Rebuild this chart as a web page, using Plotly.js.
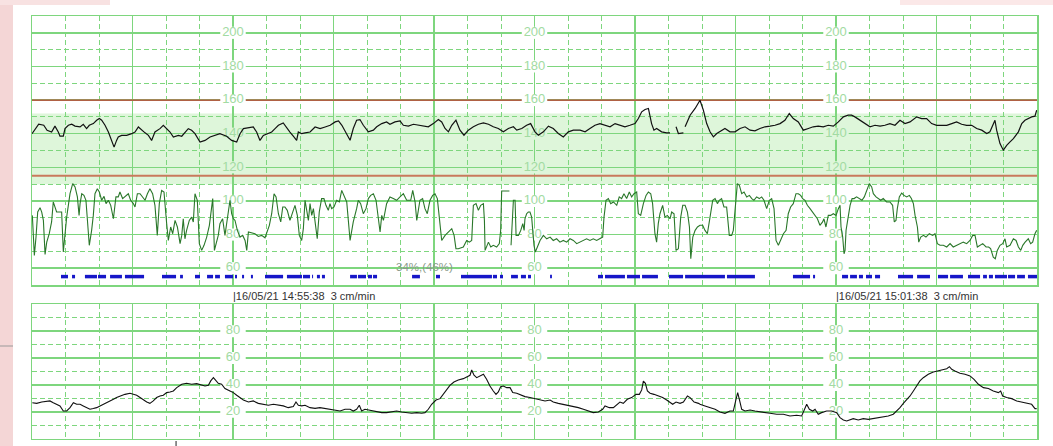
<!DOCTYPE html>
<html><head><meta charset="utf-8">
<script src="https://cdn.plot.ly/plotly-3.0.1.min.js"></script>
<style>html,body{margin:0;padding:0;background:#fff;}#chart{width:1053px;height:446px;}</style>
</head><body><div id="chart"></div>
<script>
// ---- DATA (time in seconds from 14:53:38, 3 cm/min paper) ----
const fhr1Points = [
[0,140],[4,145.6],[7,145],[9,142],[11.7,141],[13.7,144.5],[15.7,141],[16.7,138.5],[18.7,138.5],[19.7,143],[21.7,145],[23.7,145.6],[25.7,144.5],[28.7,144],[30.6,145.6],[32.6,143],[34.2,145],[36.6,146],[38.6,148],[40.2,149],[41.6,148],[43.6,145],[45.6,141],[47.6,136],[49,132],[50.5,136],[51.5,138],[53.5,139],[56.5,139],[59.5,140],[61.5,141],[63.5,144],[65.5,142],[67.5,140.5],[69.5,139],[71.4,136],[73.4,141],[76.4,143],[78.4,145],[80.4,143],[82.4,141],[84.4,138],[87.4,139],[89.4,138.5],[91.3,141],[93.3,143],[95.3,142],[97.3,140],[100.3,135],[103.3,136],[106.3,138],[109.3,139],[112.2,140],[116.2,138.5],[119.2,136],[122.2,135],[124.2,140],[126.2,143],[129.2,143.7],[132.1,144],[134.1,141],[136.1,136],[138.1,139],[140.1,140],[143.1,141],[145.1,143],[147.1,145],[150,146.4],[152,144],[154,141],[156,138.5],[158,136],[159,141],[161,140],[163,140.5],[166,141],[169,144],[172,143],[175,144],[178,145],[181,147],[183,147.6],[185,145],[187,141],
[189.9,136.1],[191.8,143.1],[193.8,148],[195.8,148.4],[197.8,145],[200.8,141.1],[203.8,142.1],[205.8,144.1],[208.8,146],[211.7,147],[213.7,145.6],[216.7,147],[219.7,147.6],[221.7,145],[224.7,144.5],[227.7,145.6],[230.6,145],[233.6,144.5],[236.6,144.1],[239.6,146],[242.6,148.4],[244.6,147],[246.6,143.1],[248.6,141.1],[250.6,145],[253.1,148],[255.5,142.1],[257.9,139.1],[260.5,142.1],[263.5,144.1],[266.5,145.6],[269.5,146.4],[272.5,145.6],[275.4,144.1],[278.4,143.1],[281.4,141.1],[284.4,143.1],[287.4,144.1],[289.4,142.1],[292.4,143.1],[295.3,145],[297.7,146],[300.3,141.1],[302.3,139.1],[305.3,141.1],[308.3,144.5],[311.2,143.1],[314.2,140.1],[317.2,138.1],[320.2,141.1],[323.2,142.1],[327.2,142.1],[330.2,141.1],[333.1,143.1],[336.1,145],[339.1,146],[342.1,145],[345.1,144.1],[348.1,146],[351,145],[354,144.1],[357,145],[360,146],[362,149],[364,153],[366,154.4],[368,155],[369.9,146],[371.3,142.1],[372.9,143.1],[375.9,141.1],[378.9,140.5],[380.9,140.5],[382.7,null],[384.5,144.1],[385.9,140.1],[388.9,140.5],[389.4,null],[389.9,144.1],[392.9,151],[395.9,155],
[398.8,159.9],[400.8,154],[402.8,146],[404.8,141.1],[406.8,138.1],[408.8,140.1],[410.7,141.1],[413.7,143.1],[416.7,141.1],[419.7,141.1],[422.7,143.1],[425.7,144.1],[428.7,142.1],[431.6,141.7],[434.6,143.1],[437.6,144.1],[440.6,144.5],[443.6,145],[446.6,146],[449.5,148],[452.1,152],[454.5,149],[457.5,147],[460.5,142.1],[463.5,143.1],[466.4,144.1],[469.4,144.5],[472.4,144.1],[475.4,145],[478.4,144.5],[481.4,147],[484.4,150],[487.3,151],[489.3,151],[491.3,150],[494.3,148],[497.3,146],[500.3,144.1],[503.3,145],[506.3,144.5],[509.2,145],[512.2,146],[515.2,145],[518.2,148],[521.2,146],[524.2,147],[528.2,150],[531.1,149],[534.1,149],[537.1,146],[540.1,145],[543.1,145],[546.1,145],[549.1,146],[552,147],[555,145.6],[558,145],[561,145],[564,143.1],[567,142.1],[570,140.1],[571.9,141.1],[573.9,146],[574.9,148],[575.9,142.1],[577.9,134.1],[579.9,130.2],[581.9,133.1],[583.9,135.1],[585.9,137.1],[588.9,141.1],[590.9,146],[592.8,148],[594.8,149],[596.8,150],[598.8,150.4],[599.8,154]
];

const fhr2Points = [
[0.2,91.4],[0.8,77.5],[1.4,67.6],[2.4,78.5],[3.4,93.4],[4.8,96],[5.8,93.4],[6.8,88.4],[7.8,68.2],[8.8,75.5],[10.3,80.5],[11.7,87.5],[12.7,99.4],[14.7,93.4],[17.7,93.4],[18.7,69.6],[19.7,79.5],[20.7,90.4],[22.7,104.3],[24.3,110.3],[25.7,108.3],[27.1,102.4],[28.1,91.4],[28.7,98.4],[29.7,104.3],[31,103.3],[32.2,100.4],[33.2,88.4],[34.2,73.6],[35.6,82.5],[36.6,91.4],[37.6,104.3],[39,107.3],[40.2,105.3],[41.6,100.4],[43,102.7],[44.2,98.4],[45.6,100.4],[47,97.4],[48.6,89.4],[50.1,102.4],[51.5,102.4],[52.5,105.3],[54.1,101.4],[55.5,102.4],[57.5,104.3],[58.9,100.4],[60.5,98.4],[61.5,96.4],[62.9,104.3],[64.5,104.3],[66.1,102.4],[67.5,100.4],[68.9,104.3],[70.4,107.3],[72,104.3],[73.4,97.4],[74.8,79.5],[76,98.4],[77.4,106.3],[78.8,105.3],[80.4,86.5],[81.4,76.5],[82.8,84.5],[84,80.5],[85.4,88.4],[86.8,84.5],[88.4,74.6],[89.4,79.5],[90.3,89.4],[91.3,77.5],[92.3,82.5],[93.9,88.4],[95.3,90.4],[96.3,87.5],[97.3,104.3],[98.7,100.4],[99.9,74.6],[101.3,70.6],[102.7,73.6],[104.3,78.5],[105.9,85.5],[106.7,92.4],[107.9,101.4],[108.9,70.6],[110.2,75.5],[111.2,79.5],[112.2,86.5],[113.8,89.4],[115.2,79.5],[117.2,95.4],[118.2,100.4],[119.2,92.4],[120.2,89.4],[121.2,88.4],[122.6,82.5],[124.2,78.5],[125.8,79.5],[127.2,76.5],[128.2,70.6],[129.2,81.5],[131.1,80.9],[133.1,80.5],[135.1,78.9],[137.1,79.5],[139.1,78.1],[140.1,81.5],[141.7,85.5],[143.1,92.4],[144.5,104.3],[145.7,102.4],[147.1,92.4],[148.5,87.5],[149.7,96.4],[151,96.4],[152.4,94.4],[154,88.4],[155.6,93.4],[157,97.4],[158.4,91.4],[159.6,79.5],[161,76.5],[162,83.5],[163,100.4],[164,95.4],[165,88.4],[166,98.4],[167,91.4],[168,95.4],[169,86.5],[170.3,77.5],[171.5,93.4],[172.9,101.4],[174.3,101.4],[175.5,97.4],[176.9,94.4],[177.9,98.4],[178.9,95.4],[180.3,96.4],[181.9,100.4],[183.5,99.4],[184.9,106.3],[186.3,103.3],[187.9,99.4],
[189.9,76.5],[191.8,87.5],[193.8,95.4],[194.8,100.4],[196.2,98.4],[197.8,92.4],[199.4,95.4],[200.8,101.4],[202.2,103.3],[203.8,104.3],[205.4,100.4],[206.8,90.4],[207.8,81.5],[208.8,91.4],[209.8,88.4],[211.7,98.4],[213.7,102.4],[215.7,101.4],[217.7,100.4],[219.7,102.4],[221.7,104.3],[223.7,100.4],[226.1,100.4],[227.3,106.3],[228.7,99.4],[229.7,88.4],[231.6,100.4],[233.2,101.4],[234.6,95.4],[236,92.4],[237.6,100.4],[239.2,103.3],[240.6,104.3],[242,101.4],[243.2,88.4],[244.6,76.5],[246.6,79.5],[248.6,81.5],[250.6,83.5],[252,79.5],[253.1,71.6],[254.5,71.6],[257.5,72.6],[259.5,76.5],[261.1,75.5],[262.5,76.5],[263.5,97.4],[265.1,98.4],[266.5,94.4],[267.9,97.4],[269.5,98.4],[270.1,88.4],[270.5,70.6],[272.5,75.5],[273.9,72.6],[275.4,73.6],[277.4,72.6],[279,74.6],[279.8,82.5],[280.4,105.9],[285,105.9],[285.5,null],[286,73.6],[287.4,100.4],[288.4,100.4],[289,79.5],[290.4,79.5],[291.8,82.5],[293,86.5],[293.8,82.5],[294.3,89.4],[295.3,92.4],[296.3,93.4],[297.3,93.4],[298.3,90.4],[298.9,81.5],[299.7,73.6],[300.5,69.6],[301.7,72.6],[303.3,76.5],[305.3,79.5],[307.3,77.5],[309.3,78.5],[311.2,76.5],[313.2,77.5],[315.2,75.5],[317.2,76.5],[319.2,75.5],[321.2,77.5],[323.2,76.5],[325.2,74.6],[327.2,75.5],[329.2,76.5],[331.1,77.5],[333.1,76.5],[335.1,77.5],[337.1,76.5],[339.1,77.5],[340.7,78.5],[341.5,90.4],[342.7,100.4],[344.1,101.4],[345.5,98.4],[347.1,99.4],[349.1,97.4],[350.6,102.4],[352,101.4],[353.4,104.3],[355,101.4],[356.6,105.3],[358,102.4],[359.4,104.3],[361,105.3],[362,92.4],[363.4,91.4],[365,98.4],[366.6,103.3],[368,105.3],[369.4,104.3],[370.5,98.4],[371.9,80.5],[372.9,75.5],[373.9,86.5],[374.9,92.4],[376.5,97.4],[377.9,90.4],[379.3,91.4],[380.9,89.4],[381.9,93.4],[383.3,92.4],[384.5,70.6],[385.9,71.6],[387.3,90.4],[388.5,97.4],[389.9,97.4],[391.3,93.4],[392.5,84.5],[393.3,65.6],[394.5,78.5],[395.9,82.5],[397.3,84.5],
[398.8,85.5],[400.4,85.5],[401.8,82.5],[403.2,80.5],[404.8,90.4],[406.4,100.4],[407.8,101.4],[409.2,98.4],[410.3,100.4],[411.7,101.4],[413.1,96.4],[414.7,96.4],[416.3,79.5],[417.7,79.5],[418.7,82.5],[419.7,92.4],[421.1,110.3],[422.3,109.3],[423.7,104.3],[425.1,105.3],[426.7,102.4],[428.3,103.3],[429.7,101.4],[431,100.4],[432.6,102.4],[434.2,101.4],[435.6,102.4],[437,100.4],[438.6,95.4],[440.2,100.4],[441.6,101.4],[443,95.4],[444.2,76.5],[445.6,73.6],[447,76.5],[448.6,80.5],[450.2,82.5],[451.5,92.4],[452.9,96.4],[454.5,98.4],[456.1,104.3],[457.5,104.3],[458.9,103.3],[460.1,101.4],[461.5,100.4],[462.9,97.4],[464.5,95.4],[466.1,93.4],[467.5,91.4],[468.9,89.4],[470.4,85.5],[472,87.5],[472.8,89.4],[474,84.5],[475.4,91.4],[476.8,91.4],[478.4,92.4],[480,91.4],[481.4,95.4],[482.4,97.4],[483,84.5],[484,78.5],[484.8,68.6],[485.4,70.6],[486,82.5],[487.4,90.4],[488.4,97.4],[489.6,101.4],[490.8,101.4],[492.3,102.4],[493.9,101.4],[495.5,100.4],[496.9,102.4],[498.3,106.3],[499.9,110.3],[501.3,108.3],[502.3,104.3],[503.9,102.4],[505.3,101.4],[506.7,100.4],[508.2,101.4],[510.2,99.4],[512.2,99.4],[513.8,97.4],[514.8,87.5],[515.8,88.4],[516.6,95.4],[517.8,102.4],[519.2,104.7],[520.6,103.3],[522.2,102.4],[523.8,103.3],[525,101.4],[526.2,98.4],[527.2,91.4],[528.6,84.5],[529.4,75.5],[530.6,78.5],[532.2,79.5],[533.7,78.5],[535.7,80.5],[537.7,79.5],[539.1,80.5],[540.5,74.6],[542.1,73.6],[544.1,73.6],[546.1,72.6],[548.1,74.6],[550,72.6],[552,73.6],[554,74.6],[556,75.5],[558,74.6],[560,76.5],[561.6,79.5],[563,79.5],[564.4,72.6],[566,73.6],[567.6,74.6],[569.6,72.6],[571.1,72.6],[572.3,71.6],[573.9,66.6],[575.1,65.6],[576.3,70.6],[577.9,73.6],[579.5,74.6],[580.9,77.5],[581.9,72.6],[583.9,73.6],[585.9,77.5],[587.5,76.5],[588.9,72.6],[590.3,70.6],[591.5,73.6],[592.9,75.5],[594.8,77.5],[596.2,74.6],[597.4,75.5],[598.8,80.5],[599.8,82.5]
];

const tocoPoints = [
[0.2,26.8],[2.8,26.3],[5.8,27.3],[8.8,28.1],[10.7,28.1],[12.7,26.8],[14.7,25.6],[16.7,24.4],[18.7,20.6],[20.7,20.6],[22.7,23.1],[24.7,26.8],[26.7,25.6],[28.7,25.6],[30.6,24.4],[32.6,23.1],[34.6,21.9],[36.6,22.4],[38.6,23.1],[40.6,24.4],[42.6,25.6],[44.6,26.3],[46.6,28.1],[48.6,29.3],[50.5,30.6],[52.5,31.8],[55.5,33],[58.5,33.8],[60.5,33],[62.5,32.3],[64.5,30.6],[66.5,28.8],[68.5,27.3],[70.4,26.3],[72.4,28.1],[74.4,30.6],[76.4,31.8],[78.4,32.3],[80.4,34.3],[82.4,34.8],[84.4,35.5],[86.4,38],[89.4,40.5],[92.3,41.2],[95.3,40.5],[98.3,41],[100.3,40.5],[103.3,39.2],[105.3,39.7],[106.7,43],[108.3,45.4],[109.9,43],[111.2,41.2],[113.2,40.5],[115.2,37.3],[118.2,35.5],[120.2,34.3],[122.2,32.3],[124.2,30.6],[126.2,28.8],[129.2,27.3],[132.1,28.1],[135.1,26.3],[138.1,25.6],[141.1,24.9],[144.1,25.6],[147.1,24.9],[150,24.4],[153,23.1],[156,23.9],[157.6,27.3],[159,24.9],[161,24.4],[163,24.9],[166,23.1],[169,22.6],[171.9,23.1],[174.9,22.4],[177.9,21.9],[180.9,21.4],[183.9,20.6],[186.9,21.9],
[189.9,21.9],[191.8,20.6],[193.8,21.9],[195.4,24.9],[196.8,20.6],[198.8,21.9],[200.8,21.4],[202.8,20.6],[205.8,19.9],[208.8,19.4],[211.7,19.4],[214.7,19.9],[217.7,20.6],[220.7,19.9],[223.7,19.4],[226.7,18.9],[229.7,19.4],[232.6,18.9],[234.6,19.4],[236.6,21.9],[238.6,25.6],[241.2,28.8],[243.6,29.8],[245.6,33],[247.6,36.8],[249.5,39.7],[251.9,42.2],[254.5,43.7],[257.5,44.7],[259.5,46.2],[261.5,47.2],[262.5,51.1],[263.9,47.2],[265.5,45.4],[267.5,46.7],[269.5,47.9],[271.4,44.2],[273.4,39.2],[275.4,35.5],[277,33],[278.4,34.8],[279.8,38.7],[281.4,39.2],[283.4,38],[285.4,38],[287,34.3],[289.4,33.8],[291.8,32.3],[294.3,31.3],[297.3,30.6],[300.3,29.8],[303.3,28.8],[306.3,28.1],[309.3,28.8],[311.2,27.3],[314.2,26.3],[317.2,25.6],[320.2,24.9],[323.2,23.9],[326.2,23.1],[329.2,21.9],[332.1,20.6],[335.1,19.4],[338.1,19.9],[340.7,21.9],[342.1,24.4],[344.7,23.1],[347.1,23.1],[349.1,25.6],[351,27.3],[353,26.3],[355.4,29.3],[358,30.6],[360.6,33],[362.6,33],[364,36.3],[365,42.9],[366.2,41.2],[367.4,35.5],[369,33.8],[371.3,33],[373.9,31.8],[376.5,30.6],[378.9,28.8],[380.9,27.3],[382.5,25.6],[384.5,27.3],[386.9,26.3],[388.9,27.3],[391.3,31.8],[392.9,30.6],[395.3,27.3],[397.9,26.3],
[398.8,25.6],[401.8,24.4],[404.8,23.1],[407.8,21.9],[410.7,19.9],[413.7,18.9],[416.7,20.6],[418.7,20.6],[420.3,29.3],[421.3,34.3],[422.3,29.3],[423.7,21.9],[425.7,20.6],[428.7,21.4],[431.6,20.6],[434.6,19.9],[437.6,19.4],[440.6,18.9],[444.6,18.2],[448.6,18.2],[452.5,16.9],[456.5,17.4],[459.5,16.9],[460.9,20.6],[462.5,25.6],[464.1,21.9],[466.1,20.6],[467.5,21.9],[469.4,18.2],[471.4,19.4],[474.4,20.6],[477.4,20.6],[480.4,19.4],[482.4,15.7],[484.4,13.9],[486.4,13.2],[488.4,13.9],[490.3,14.9],[493.3,13.9],[496.3,14.9],[499.3,14.4],[502.3,14.9],[505.3,15.7],[508.2,16.4],[511.2,16.9],[514.2,18.2],[516.2,20.6],[518.2,23.1],[520.2,26.3],[522.2,28.8],[524.2,31.8],[526.2,35.5],[528.2,39.2],[530.1,43],[532.1,45.4],[535.1,47.9],[538.1,49.7],[541.1,50.4],[544.1,51.2],[546.1,52.1],[547.7,53.6],[549.1,51.6],[551,50.4],[554,48.7],[557,47.9],[560,46.7],[562.4,44.2],[565,40.5],[568,38],[571,37.3],[573.9,35.5],[576.9,34.3],[578.3,35.5],[579.5,31.8],[581.9,30.6],[584.9,29.8],[587.9,28.1],[590.9,27.3],[593.9,26.3],[596.8,25.6],[598.8,22.4],[599.8,22.4]
];

const movementSegments = [
[17.3,21.5],[23.9,25.7],[31.6,38.8],[39.4,44.2],[46.6,53.7],[55.5,66.9],[77.6,86],[88.4,90.1],[97.3,100.3],[104.5,108.1],[109.3,112.2],[115.2,120],[121.2,122.4],[125.4,126.6],[130.7,131.9],[139.1,149.9],[152.2,161.2],[161.8,166],[167.2,167.8],[170.1,171.9],[173.1,174.9],
[189.9,194],[194.6,199.4],[200.6,203],[203.6,206],[226.9,231.6],[241.2,243.6],[256.1,274.6],[275.2,277.6],[279.4,281.2],[286,290.1],[291.9,294.9],[296.1,297.9],[309.3,310.4],[337.9,340.9],[342.1,354],[355.2,363],[364.2,373.7],[380.3,388.7],[389.9,398.8],
[398.8,413.7],[414.9,431.6],[454.3,464.5],[466.3,467.5],[483.6,487.2],[488.4,492.5],[493.7,496.1],[497.9,501.5],[503.3,506.3],[517,526],[528.4,536.1],[540.9,546.9],[548.1,555.8],[558.8,566],[567.8,570.1],[571.3,573.7],[574.9,582.1],[582.7,586.9],[588.1,592.8],[594.6,600]
];
const movementLevel = 55;

const fhrTickLabels = [200,180,160,140,120,100,80,60];
const tocoTickLabels = [80,60,40,20];
const labelTimes = [120,300,480];
const fhrUpperLimit = 160;
const fhrLowerLimit = 115;
const normalBand = [110,152];
const stampTimes = [120,480];
const stampTexts = ['|16/05/21 14:55:38  3 cm/min','|16/05/21 15:01:38  3 cm/min'];
const signalQuality = '34%,(46%)';
const signalQualityPos = [234.6,60.5];

// ---- STYLE ----
const W = 1053, H = 446;
const gridGreen = '#7ed67e';
const labelGreen = '#a2dba2';
const bandFill = '#def6da';
const font = 'Arial, "Liberation Sans", sans-serif';

const xDomain = [32/W, 1037/W];
const yTopDomain = [1-285/H, 1-16/H];
const yBotDomain = [1-438.7/H, 1-304.3/H];

function axis(extra){
  return Object.assign({
    showticklabels:false, ticks:'', zeroline:false, fixedrange:true,
    showgrid:true, gridcolor:gridGreen, gridwidth:1.5,
    showline:true, linecolor:gridGreen, linewidth:1.5, mirror:true
  }, extra);
}
const minorX = {dtick:20, showgrid:true, gridcolor:gridGreen, gridwidth:1, griddash:'5px,3px', ticks:''};
const minorY = {dtick:10, showgrid:true, gridcolor:gridGreen, gridwidth:1, griddash:'5px,3px', ticks:''};

const col = (arr,i)=>arr.map(p=>p[i]);

const mvX = [], mvY = [];
movementSegments.forEach(s=>{ mvX.push(s[0], s[1], null); mvY.push(movementLevel, movementLevel, null); });

function labelTrace(vals, xa, ya){
  const x=[], y=[], t=[];
  labelTimes.forEach(lt=>vals.forEach(v=>{x.push(lt); y.push(v); t.push(String(v));}));
  return {type:'scatter', mode:'text', x:x, y:y, text:t, xaxis:xa, yaxis:ya,
    textposition:'middle center', textfont:{family:font, size:13, color:labelGreen},
    hoverinfo:'skip', cliponaxis:false};
}

const traces = [
  labelTrace(fhrTickLabels,'x','y'),
  labelTrace(tocoTickLabels,'x2','y2'),
  {type:'scatter', mode:'lines', x:col(fhr2Points,0), y:col(fhr2Points,1), xaxis:'x', yaxis:'y',
   line:{color:'#2a772a', width:1.1}, connectgaps:false, hoverinfo:'skip'},
  {type:'scatter', mode:'lines', x:mvX, y:mvY, xaxis:'x', yaxis:'y',
   line:{color:'#1616c8', width:3.5}, connectgaps:false, hoverinfo:'skip'},
  {type:'scatter', mode:'lines', x:col(fhr1Points,0), y:col(fhr1Points,1), xaxis:'x', yaxis:'y',
   line:{color:'#111111', width:1.2}, connectgaps:false, hoverinfo:'skip'},
  {type:'scatter', mode:'lines', x:col(tocoPoints,0), y:col(tocoPoints,1), xaxis:'x2', yaxis:'y2',
   line:{color:'#111111', width:1.1}, hoverinfo:'skip'}
];

const shapes = [
  {type:'rect', xref:'x', yref:'y', x0:0, x1:600, y0:normalBand[0], y1:normalBand[1], fillcolor:bandFill, line:{width:0}, layer:'below'},
  {type:'line', xref:'x', yref:'y', x0:0, x1:600, y0:fhrUpperLimit, y1:fhrUpperLimit, line:{color:'#c23a32', width:1.2}, layer:'between'},
  {type:'line', xref:'x', yref:'y', x0:0, x1:600, y0:fhrLowerLimit, y1:fhrLowerLimit, line:{color:'#c97a5c', width:2}, layer:'between'},
  // page background bits
  {type:'rect', xref:'paper', yref:'paper', x0:0, x1:13/W, y0:0, y1:1, fillcolor:'#f4d6d6', line:{width:0}, layer:'below'},
  {type:'rect', xref:'paper', yref:'paper', x0:0, x1:110/W, y0:1-5/H, y1:1, fillcolor:'#f8e2e2', line:{width:0}, layer:'below'},
  {type:'rect', xref:'paper', yref:'paper', x0:900/W, x1:1, y0:1-5/H, y1:1, fillcolor:'#fbe8e8', line:{width:0}, layer:'below'},
  {type:'line', xref:'paper', yref:'paper', x0:0, x1:13/W, y0:1-346/H, y1:1-346/H, line:{color:'#9a9a9a', width:1}},
  {type:'line', xref:'x2', yref:'paper', x0:86, x1:86, y0:0, y1:1-441/H, line:{color:'#222', width:1}}
];
// label backgrounds interrupting the grid
labelTimes.forEach(lt=>{
  fhrTickLabels.forEach(v=>{
    const inBand = v>=normalBand[0] && v<=normalBand[1];
    shapes.push({type:'rect', xref:'x', yref:'y', x0:lt-7.6, x1:lt+7.6, y0:v-3.6, y1:v+3.6,
      fillcolor: inBand?bandFill:'#ffffff', line:{width:0}, layer:'between'});
  });
  tocoTickLabels.forEach(v=>{
    shapes.push({type:'rect', xref:'x2', yref:'y2', x0:lt-7.6, x1:lt+7.6, y0:v-4.5, y1:v+4.5,
      fillcolor:'#ffffff', line:{width:0}, layer:'between'});
  });
});

const annotations = stampTimes.map((t,i)=>({
  xref:'x', yref:'paper', x:t, y:1-296/H, xanchor:'left', yanchor:'middle', xshift:-2,
  text:stampTexts[i], showarrow:false, font:{family:font, size:11, color:'#333333'}
}));
annotations.push({xref:'x', yref:'y', x:signalQualityPos[0], y:signalQualityPos[1], xanchor:'center', yanchor:'middle',
  text:signalQuality, showarrow:false, font:{family:font, size:11.5, color:'#8a9a8a'}});

const layout = {
  width:W, height:H, margin:{l:0,r:0,t:0,b:0},
  paper_bgcolor:'#ffffff', plot_bgcolor:'#ffffff', showlegend:false,
  xaxis: axis({domain:xDomain, range:[0,600], tick0:0, dtick:60, minor:minorX, anchor:'y'}),
  yaxis: axis({domain:yTopDomain, range:[50,210], tick0:0, dtick:20, minor:minorY, anchor:'x'}),
  xaxis2: axis({domain:xDomain, range:[0,600], tick0:0, dtick:60, minor:minorX, anchor:'y2'}),
  yaxis2: axis({domain:yBotDomain, range:[0,100], tick0:0, dtick:20, minor:minorY, anchor:'x2'}),
  shapes:shapes, annotations:annotations
};

Plotly.newPlot('chart', traces, layout, {staticPlot:true, displayModeBar:false});
</script>
</body></html>
